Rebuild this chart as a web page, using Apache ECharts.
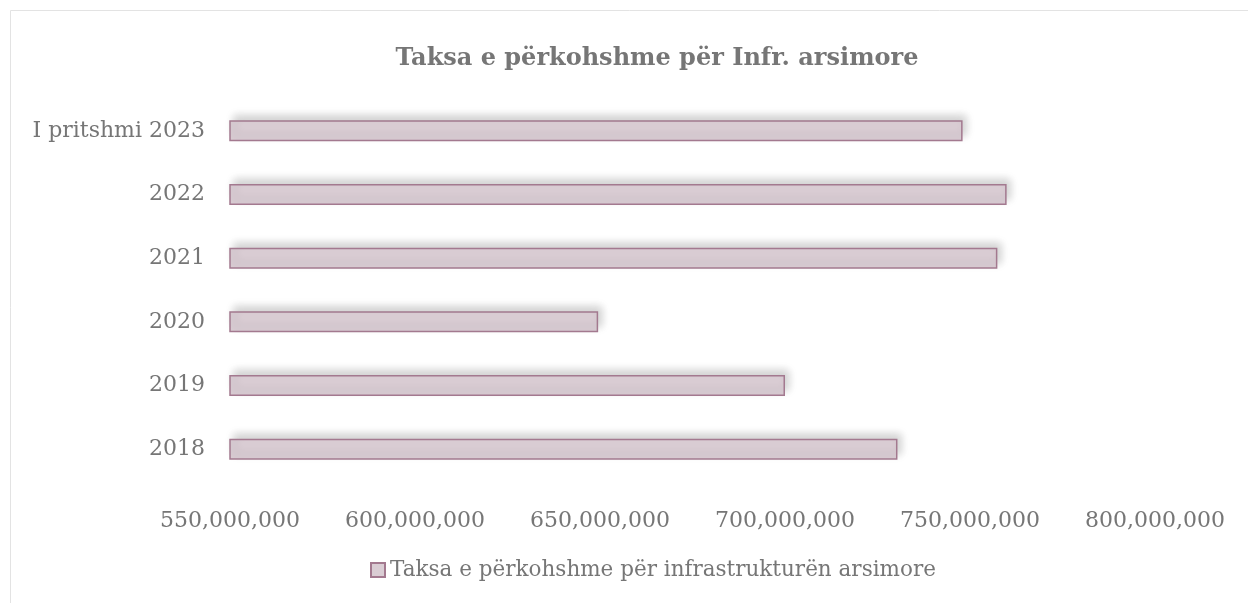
<!DOCTYPE html>
<html>
<head>
<meta charset="utf-8">
<script src="https://cdn.jsdelivr.net/npm/echarts@6/dist/echarts.min.js"></script>
<style>
    html, body { margin: 0; padding: 0; background: #fff; }
    #chart { width: 1248px; height: 603px; }
</style>
</head>
<body>
<div id="chart"></div>
<script>
    // vitet, nga poshte lart
    var categories = ['2018', '2019', '2020', '2021', '2022', 'I pritshmi 2023'];
    var values = [730400000, 700000000, 649500000, 757400000, 759900000, 748000000];
    var seriesName = 'Taksa e përkohshme për infrastrukturën arsimore';
    var titleText = 'Taksa e përkohshme për Infr. arsimore';
    var axisMin = 550000000;
    var axisMax = 800000000;
    var axisStep = 50000000;

    var textColor = '#767676';
    var serif = '"DejaVu Serif", "Liberation Serif", serif';

    var myChart = echarts.init(document.getElementById('chart'));
    var option = {
        animation: false,
        graphic: [{
            type: 'rect',
            shape: { x: 10.5, y: 10.5, width: 1260, height: 620 },
            style: { fill: 'none', stroke: '#e3e3e3', lineWidth: 1 },
            silent: true
        }],
        title: {
            text: titleText,
            left: 652,
            textAlign: 'center',
            top: 42,
            textStyle: {
                fontFamily: serif,
                fontWeight: 'bold',
                fontSize: 24,
                color: textColor
            }
        },
        legend: {
            data: [seriesName],
            bottom: 17,
            left: 365,
            itemWidth: 14,
            itemHeight: 14,
            itemGap: 8,
            icon: 'rect',
            textStyle: {
                fontFamily: serif,
                fontSize: 21.5,
                color: textColor,
                padding: [0, 0, 0, 0]
            }
        },
        grid: {
            left: 230,
            right: 93,
            top: 99,
            bottom: 122,
            containLabel: false
        },
        xAxis: {
            type: 'value',
            min: axisMin,
            max: axisMax,
            interval: axisStep,
            axisLine: { show: false },
            axisTick: { show: false },
            splitLine: { show: false },
            axisLabel: {
                margin: 29,
                fontFamily: serif,
                fontSize: 22,
                color: textColor,
                formatter: function (v) {
                    return v.toString().replace(/\B(?=(\d{3})+(?!\d))/g, ',');
                }
            }
        },
        yAxis: {
            type: 'category',
            data: categories,
            axisLine: { show: false },
            axisTick: { show: false },
            axisLabel: {
                margin: 25,
                fontFamily: serif,
                fontSize: 22,
                color: textColor
            }
        },
        series: [{
            name: seriesName,
            type: 'bar',
            data: values,
            barWidth: 21,
            itemStyle: {
                color: '#dacdd4',
                borderColor: '#a3798f',
                borderWidth: 1.5,
                shadowColor: 'rgba(0,0,0,0.18)',
                shadowBlur: 9,
                shadowOffsetX: 4,
                shadowOffsetY: -5
            }
        }]
    };
    myChart.setOption(option, true);
    window.addEventListener('resize', () => {
        myChart.resize();
    });
</script>
</body>
</html>
